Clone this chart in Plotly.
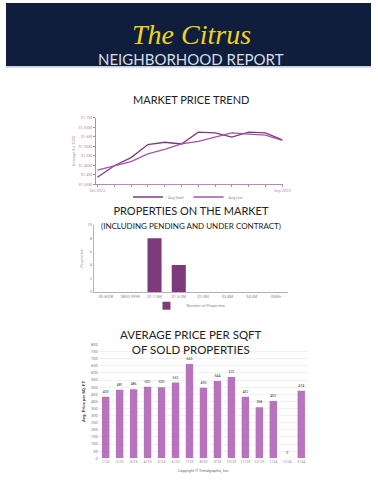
import plotly.graph_objects as go

W, H = 378, 489

# ---------------- data ----------------
trend_months = ["Oct 2022", "Nov 2022", "Dec 2022", "Jan 2023", "Feb 2023", "Mar 2023",
                "Apr 2023", "May 2023", "Jun 2023", "Jul 2023", "Aug 2023", "Sep 2023"]
avg_sold = [1.386, 1.447, 1.490, 1.559, 1.571, 1.562, 1.624, 1.621, 1.598, 1.624, 1.621, 1.584]
avg_list = [1.424, 1.447, 1.469, 1.510, 1.533, 1.562, 1.576, 1.598, 1.621, 1.614, 1.609, 1.581]
trend_ytick_vals = [1.35, 1.40, 1.45, 1.50, 1.55, 1.60, 1.65, 1.70]
trend_ytick_text = ["$1.35M", "$1.4M", "$1.45M", "$1.5M", "$1.55M", "$1.6M", "$1.65M", "$1.7M"]

price_ranges = ["$0-800K", "$800-999K", "$1-1.5M", "$1.5-2M", "$2-3M", "$3-4M", "$4-5M", "$5M+"]
num_properties = [0, 0, 8, 4, 0, 0, 0, 0]

sqft_months = ["1/23", "2/23", "3/23", "4/23", "5/23", "6/23", "7/23", "8/23",
               "9/23", "10/23", "11/23", "12/23", "1/24", "2/24", "3/24"]
price_per_sqft = [433, 481, 486, 502, 500, 532, 663, 495, 544, 572, 432, 358, 402, 0, 474]


def py(px):
    """pixel row -> paper y"""
    return 1 - px / H


def pxx(px):
    return px / W


PURPLE_DARK = "#7d3a7c"
PURPLE_LINE2 = "#a455a6"
PURPLE_LIGHT = "#b873bd"
AXIS_PURPLE = "#b58ab6"
TICK_GRAY = "#8a8a8a"
TITLE_FONT = "Lato"

fig = go.Figure()

# --------- chart 1: market price trend ----------
fig.add_trace(go.Scatter(x=list(range(len(trend_months))), y=avg_sold, mode="lines",
                         name="Avg Sold", line=dict(color=PURPLE_DARK, width=1.3),
                         xaxis="x", yaxis="y", legend="legend"))
fig.add_trace(go.Scatter(x=list(range(len(trend_months))), y=avg_list, mode="lines",
                         name="Avg List", line=dict(color=PURPLE_LINE2, width=1.3),
                         xaxis="x", yaxis="y", legend="legend"))

# --------- chart 2: properties on the market ----------
fig.add_trace(go.Bar(x=price_ranges, y=num_properties, name="Number of Properties",
                     marker=dict(color=PURPLE_DARK, line=dict(width=0)), width=0.58,
                     showlegend=False, xaxis="x2", yaxis="y2"))
# legend entry (square swatch) for chart 2
fig.add_trace(go.Scatter(x=[None], y=[None], mode="markers", name="Number of Properties",
                         marker=dict(symbol="square", size=8, color=PURPLE_DARK),
                         xaxis="x2", yaxis="y2", legend="legend2"))

# --------- chart 3: avg price per sqft ----------
fig.add_trace(go.Bar(x=sqft_months, y=price_per_sqft, name="Avg Price per SqFt",
                     marker=dict(color=PURPLE_LIGHT, line=dict(width=0)), width=0.53,
                     text=[str(v) for v in price_per_sqft], textposition="outside",
                     textfont=dict(size=3.5, color="#333333", family="Roboto"),
                     cliponaxis=False, showlegend=False, xaxis="x3", yaxis="y3"))

n = len(trend_months)
tick_text1 = [trend_months[0]] + [""] * (n - 2) + [trend_months[-1]]

fig.update_layout(
    width=W, height=H, autosize=False,
    margin=dict(l=0, r=0, t=0, b=0),
    paper_bgcolor="white", plot_bgcolor="rgba(0,0,0,0)",
    font=dict(family="Roboto", color=TICK_GRAY, size=4),
    bargap=0.4,
    xaxis=dict(domain=[pxx(93), pxx(287)], anchor="y", range=[-0.1, n - 1 + 0.05],
               tickvals=list(range(n)), ticktext=tick_text1, ticks="outside", ticklen=2,
               tickcolor=AXIS_PURPLE, showline=True, linecolor=AXIS_PURPLE, linewidth=1,
               showgrid=False, zeroline=False, tickfont=dict(size=4, color=AXIS_PURPLE)),
    yaxis=dict(domain=[py(183), py(116)], anchor="x", range=[1.35, 1.70],
               tickvals=trend_ytick_vals, ticktext=trend_ytick_text, ticks="outside",
               ticklen=2, tickcolor=AXIS_PURPLE, showline=True, linecolor=AXIS_PURPLE,
               linewidth=1, showgrid=False, zeroline=False,
               tickfont=dict(size=4, color=AXIS_PURPLE),
               title=dict(text="Average $ x 1000", font=dict(size=4, color=AXIS_PURPLE),
                          standoff=3)),
    xaxis2=dict(domain=[pxx(91), pxx(292)], anchor="y2", range=[-0.5, 7.5],
                showline=True, linecolor="#c4a9c4", linewidth=1, showgrid=False,
                zeroline=False, ticks="", tickfont=dict(size=4, color=TICK_GRAY)),
    yaxis2=dict(domain=[py(292), py(224)], anchor="x2", range=[0, 10], dtick=2,
                showline=True, linecolor="#c4a9c4", linewidth=1, showgrid=False,
                zeroline=False, ticks="", tickfont=dict(size=4, color=TICK_GRAY),
                title=dict(text="Properties", font=dict(size=4, color=AXIS_PURPLE),
                           standoff=4)),
    xaxis3=dict(domain=[pxx(96), pxx(313)], anchor="y3", showline=False, showgrid=False,
                zeroline=False, ticks="", tickfont=dict(size=3.8, color=TICK_GRAY)),
    yaxis3=dict(domain=[py(460), py(345)], anchor="x3", range=[0, 800], dtick=50,
                showline=False, showgrid=True, gridcolor="#f1f1f1", gridwidth=0.5,
                zeroline=False, ticks="", tickfont=dict(size=4, color="#777777"),
                title=dict(text="<b>Avg. Price per SQ. FT</b>",
                           font=dict(size=4.3, color="#333333"), standoff=5)),
    legend=dict(orientation="h", x=0.5, xanchor="center", y=py(196), yanchor="middle",
                font=dict(size=4, color=TICK_GRAY), itemwidth=30,
                bgcolor="rgba(0,0,0,0)", tracegroupgap=0),
    legend2=dict(orientation="h", x=0.5, xanchor="center", y=py(306), yanchor="middle",
                 font=dict(size=4, color=TICK_GRAY), itemwidth=30,
                 bgcolor="rgba(0,0,0,0)"),
)

# header band
fig.add_shape(type="rect", xref="paper", yref="paper", x0=0, x1=1, y0=py(64), y1=1,
              fillcolor="#0e1e3c", line=dict(width=0), layer="below")
fig.add_shape(type="rect", xref="paper", yref="paper", x0=0, x1=1, y0=py(65.5), y1=py(64),
              fillcolor="#c9d5e2", line=dict(width=0), layer="below")

annotations = [
    dict(text="The Citrus", x=0.508, y=py(32), font=dict(family="Liberation Serif", size=28,
         color="#f2d21e", style="italic")),
    dict(text="NEIGHBORHOOD REPORT", x=0.508, y=py(56.5),
         font=dict(family="Lato", size=15, color="#d8dde6")),
    dict(text="MARKET PRICE TREND", x=0.508, y=py(97),
         font=dict(family=TITLE_FONT, size=11, color="#222222")),
    dict(text="PROPERTIES ON THE MARKET<br><span style='font-size:8px'>(INCLUDING PENDING AND UNDER CONTRACT)</span>",
         x=0.506, y=py(217), font=dict(family=TITLE_FONT, size=11, color="#222222")),
    dict(text="AVERAGE PRICE PER SQFT<br>OF SOLD PROPERTIES", x=0.506, y=py(342),
         font=dict(family=TITLE_FONT, size=11.5, color="#222222")),
    dict(text="Copyright © Trendgraphix, Inc.", x=0.541, y=py(472.5),
         font=dict(family="Roboto", size=3.8, color="#666666")),
]
for a in annotations:
    fig.add_annotation(xref="paper", yref="paper", showarrow=False,
                       xanchor="center", yanchor="middle", **a)

fig.write_html("out.html", config={"displayModeBar": False},
               post_script="document.body.style.margin='0';document.body.style.padding='0';")
